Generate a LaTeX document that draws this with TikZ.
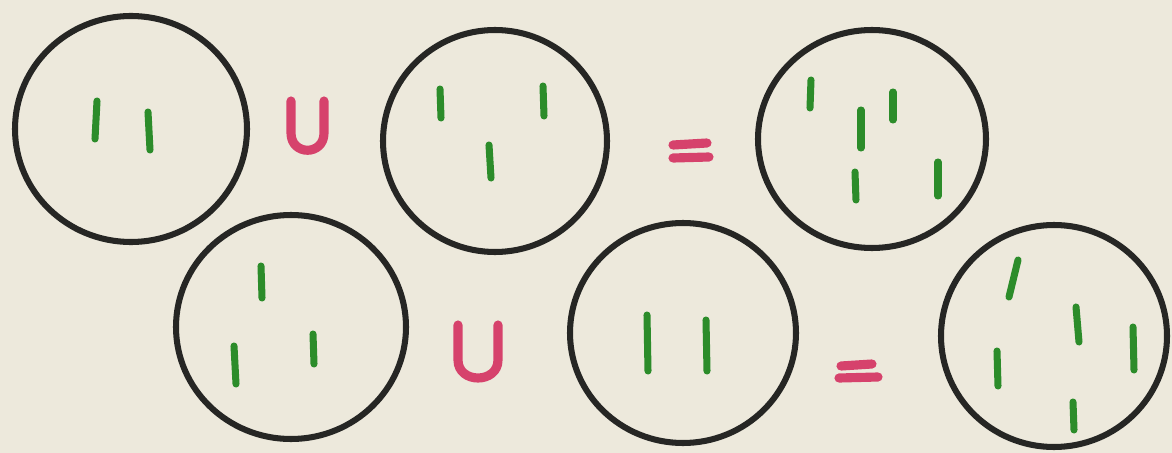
\documentclass[tikz,border=0pt]{standalone}
\usepackage{tikz}

\definecolor{paper}{RGB}{237,233,220}
\definecolor{ink}{RGB}{38,38,36}
\definecolor{leaf}{RGB}{44,140,42}
\definecolor{rose}{RGB}{214,66,108}

\tikzset{
  ring/.style={ink, line width=4.3pt},
  tally/.style={leaf, line width=5pt, line cap=round},
  sign/.style={rose, line width=6.5pt, line cap=round}
}

\begin{document}
\begin{tikzpicture}[x=0.025cm, y=-0.025cm]
    \fill[paper] (0,0) rectangle (1172,453);
    \useasboundingbox (0,0) rectangle (1172,453);

    % Top row: A union B = C
    \draw[ring] (131,129) ellipse [x radius=116, y radius=113];
    \draw[tally] (97,101) -- (95,139);
    \draw[tally] (148,112) -- (150,150);

    \draw[sign] (291,101) -- (291,133) .. controls (291,156) and (324,156) .. (324,133) -- (324,101);

    \draw[ring] (495,141) ellipse [x radius=112, y radius=111];
    \draw[tally] (440,89) -- (441,118);
    \draw[tally] (543,86) -- (544,116);
    \draw[tally] (489,145) -- (491,178);

    \draw[sign] (673,145) -- (707,143);
    \draw[sign] (673,158) -- (709,157);

    \draw[ring] (872,139) ellipse [x radius=114, y radius=109];
    \draw[tally] (811,80) -- (810,108);
    \draw[tally] (893,92) -- (893,120);
    \draw[tally] (861,110) -- (861,148);
    \draw[tally] (855,172) -- (856,200);
    \draw[tally] (938,162) -- (938,196);

    % Bottom row: D union E = F
    \draw[ring] (291,327) ellipse [x radius=115, y radius=112];
    \draw[tally] (261,266) -- (262,298);
    \draw[tally] (234,346) -- (236,384);
    \draw[tally] (313,334) -- (314,364);

    \draw[sign] (458,325) -- (458,360) .. controls (458,384) and (498,384) .. (498,360) -- (498,325);

    \draw[ring] (683,333) ellipse [x radius=113, y radius=110];
    \draw[tally] (647,315) -- (648,371);
    \draw[tally] (706,320) -- (707,371);

    \draw[sign] (841,366) -- (872,364);
    \draw[sign] (839,378) -- (878,377);

    \draw[ring] (1054,336) ellipse [x radius=113, y radius=111];
    \draw[tally] (1018,260) -- (1009,297);
    \draw[tally] (1076,307) -- (1079,342);
    \draw[tally] (1133,327) -- (1134,370);
    \draw[tally] (997,351) -- (998,386);
    \draw[tally] (1073,402) -- (1074,430);
\end{tikzpicture}
\end{document}
